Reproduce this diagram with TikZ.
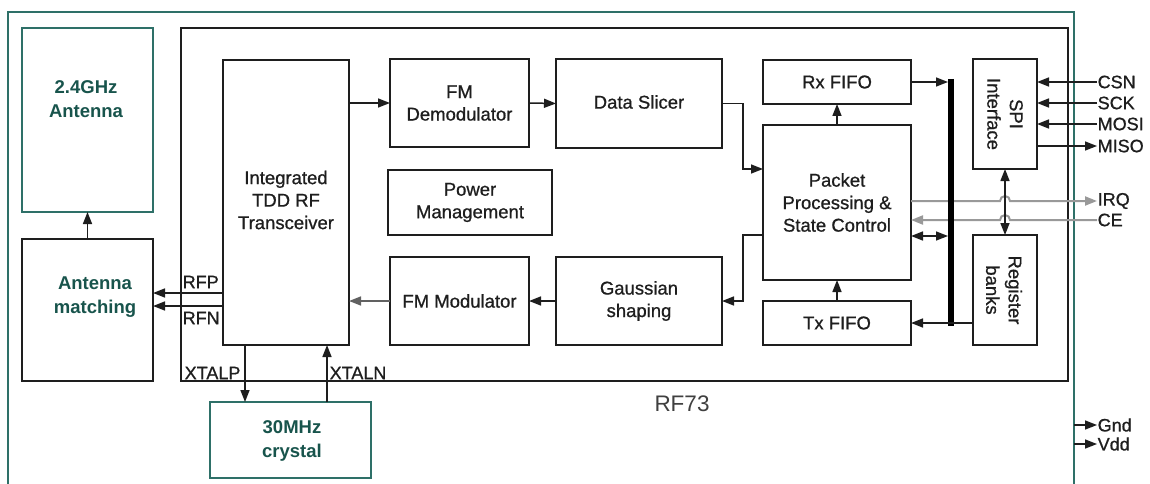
\documentclass[tikz,border=0pt]{standalone}
\usepackage{fontspec}
\setmainfont{Liberation Sans}
\newfontfamily\heavyfont[FakeBold=0.8]{Liberation Sans}
\usetikzlibrary{arrows.meta}
\definecolor{tealframe}{RGB}{46,112,104}
\definecolor{tealtext}{RGB}{24,84,76}
\definecolor{ink}{RGB}{30,30,30}
\begin{document}
\begin{tikzpicture}[x=1pt,y=-1pt,
  blk/.style={draw=ink,line width=1.5pt,inner sep=0pt,outer sep=0pt},
  tblk/.style={draw=tealframe,line width=1.5pt,inner sep=0pt,outer sep=0pt},
  txt/.style={text=ink,font=\heavyfont\fontsize{18.5}{22.5}\selectfont,align=center,inner sep=0pt},
  ttxt/.style={text=tealtext,font=\fontsize{18.5}{24}\selectfont\bfseries,align=center,inner sep=0pt},
  lbl/.style={text=ink,font=\heavyfont\fontsize{18}{20}\selectfont,inner sep=0.5pt,anchor=west},
  tip/.tip={Triangle[length=12pt,width=9pt]},
  arr/.style={draw=ink,line width=1.5pt,-tip},
  darr/.style={draw=ink,line width=1.5pt,tip-tip},
  ln/.style={draw=ink,line width=1.5pt},
  gln/.style={draw=gray!80,line width=2pt,-tip},
]
\useasboundingbox (0,0) rectangle (1150,484);
\fill[white] (0,0) rectangle (1150,484);
% outer frame
\draw[draw=tealframe,line width=1.8pt] (8,484) -- (8,12) -- (1074,12) -- (1074,484);

% chip
\node[blk,minimum width=887pt,minimum height=353pt] (chip) at (624.5,204.5) {};
\node[text=ink!85,font=\fontsize{22.5}{24}\selectfont,inner sep=0pt] (rf73) at (682,404) {RF73};

% external blocks
\node[tblk,minimum width=131pt,minimum height=184pt] (ant) at (87.5,120) {};
\node[ttxt] (anttxt) at (86,99) {2.4GHz\\Antenna};
\node[blk,minimum width=131pt,minimum height=142pt] (match) at (87.5,310) {};
\node[ttxt] (matchtxt) at (95,297) {Antenna\\matching};
\node[tblk,minimum width=161pt,minimum height=76pt] (xtal) at (290.5,440) {};
\node[ttxt] (xtaltxt) at (292,441) {30MHz\\crystal};

% internal blocks
\node[blk,minimum width=126pt,minimum height=285pt] (trx) at (286,202.5) {};
\node[txt] (trxtxt) at (286,200) {Integrated\\TDD RF\\Transceiver};
\node[blk,txt,minimum width=139pt,minimum height=88pt] (demod) at (459.5,103) {FM\\Demodulator};
\node[blk,txt,minimum width=166pt,minimum height=89pt] (slicer) at (639,103.5) {};
\node[txt] (slicertxt) at (639,102) {Data Slicer};
\node[blk,txt,minimum width=164pt,minimum height=65pt] (power) at (470,202.5) {Power\\Management};
\node[blk,txt,minimum width=139pt,minimum height=88pt] (mod) at (459.5,301) {FM Modulator};
\node[blk,txt,minimum width=166pt,minimum height=88pt] (gauss) at (639,301) {Gaussian\\shaping};
\node[blk,txt,minimum width=148pt,minimum height=44pt] (rxfifo) at (837,82) {Rx FIFO};
\node[blk,txt,minimum width=148pt,minimum height=155pt] (pkt) at (837,202.5) {Packet\\Processing \&\\State Control};
\node[blk,txt,minimum width=148pt,minimum height=44pt] (txfifo) at (837,323) {Tx FIFO};
\node[blk,minimum width=64pt,minimum height=110pt] (spi) at (1005,114) {};
\node[txt,rotate=-90] (spitxt) at (1005,114) {SPI\\Interface};
\node[blk,minimum width=64pt,minimum height=110pt] (reg) at (1005,290) {};
\node[txt,rotate=-90] (regtxt) at (1004,290) {Register\\banks};

% labels
\node[lbl] (rfp) at (182,282) {RFP};
\node[lbl] (rfn) at (182,318) {RFN};
\node[lbl] (xtalp) at (184,373) {XTALP};
\node[lbl] (xtaln) at (329,373) {XTALN};
\node[lbl] (csn) at (1097,82) {CSN};
\node[lbl] (sck) at (1097,103) {SCK};
\node[lbl] (mosi) at (1097,124) {MOSI};
\node[lbl] (miso) at (1097,146) {MISO};
\node[lbl] (irq) at (1097,201) {IRQ};
\node[lbl] (ce) at (1097,220) {CE};
\node[lbl] (gnd) at (1097,425) {Gnd};
\node[lbl] (vdd) at (1097,444) {Vdd};
\coordinate (gndpin) at (1074,425);
\coordinate (vddpin) at (1074,444);

% connectors
\draw[arr] (match.north) -- (ant.south);
\draw[arr] (trx.west |- 0,293) -- (match.east |- 0,293);
\draw[arr] (trx.west |- 0,306) -- (match.east |- 0,306);
\draw[arr] (trx.south -| 245,0) -- (xtal.north -| 245,0);
\draw[arr] (xtal.north -| 327,0) -- (trx.south -| 327,0);
\draw[arr] (trx.east |- demod.west) -- (demod.west);
\draw[arr] (demod.east) -- (slicer.west);
\draw[arr] (slicer.east) -- ++(21,0) |- (pkt.west |- 0,169);
\draw[arr] (pkt.west |- 0,235) -- ++(-20,0) |- (gauss.east);
\draw[arr] (gauss.west) -- (mod.east);
\draw[arr,draw=ink!70] (mod.west) -- (trx.east |- mod.west);
\draw[arr] (pkt.north) -- (rxfifo.south);
\draw[arr] (txfifo.north) -- (pkt.south);

% IRQ / CE with hops
\draw[gln] (pkt.east |- 0,201) -- (1000,201) arc[start angle=180,end angle=0,radius=5pt] -- (irq.west);
\draw[gln] (ce.west) -- (1010,220) arc[start angle=0,end angle=180,radius=5pt] -- (pkt.east |- 0,220);

% bus
\coordinate (bustop) at (951,79);
\coordinate (busbot) at (951,326);
\draw[draw=black,line width=6pt] (bustop) -- (busbot);
\draw[arr] (rxfifo.east) -- (948,82);
\draw[arr] (951,323) -- (txfifo.east |- 0,323);
\draw[ln] (951,323) -- (reg.west |- 0,323);
\draw[darr] (pkt.east |- 0,236) -- (948,236);
\draw[darr] (spi.south) -- (reg.north);

% SPI pins
\draw[arr] (csn.west) -- (spi.east |- csn.west);
\draw[arr] (sck.west) -- (spi.east |- sck.west);
\draw[arr] (mosi.west) -- (spi.east |- mosi.west);
\draw[arr] (spi.east |- miso.west) -- (miso.west);

% power pins
\draw[arr] (gndpin) -- (gnd.west);
\draw[arr] (vddpin) -- (vdd.west);
\end{tikzpicture}
\end{document}
